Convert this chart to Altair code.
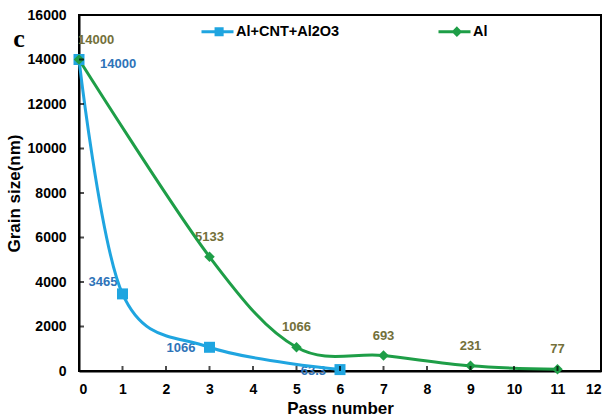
import altair as alt
import pandas as pd

# ---------------- data ----------------
composite_pass = [0, 1, 3, 6]
composite_size = [14000, 3465, 1066, 63.3]
composite_text = ["14000", "3465", "1066", "63.3"]
al_pass = [0, 3, 5, 7, 9, 11]
al_size = [14000, 5133, 1066, 693, 231, 77]
al_text = ["14000", "5133", "1066", "693", "231", "77"]
series_names = ["Al+CNT+Al2O3", "Al"]
x_ticks = list(range(0, 13))
y_ticks = list(range(0, 16001, 2000))

BLUE = "#1FA5E0"
GREEN = "#1E9E47"
BLUE_TXT = "#2E73B8"
OLIVE_TXT = "#73703A"
FONT = "Liberation Sans"

comp = pd.DataFrame({"pass": composite_pass, "size": composite_size,
                     "label": composite_text, "idx": list(range(len(composite_pass)))})
al = pd.DataFrame({"pass": al_pass, "size": al_size,
                   "label": al_text, "idx": list(range(len(al_pass)))})

xscale = alt.Scale(domain=[0, 12], nice=False, zero=False)
yscale = alt.Scale(domain=[0, 16000], nice=False)
xaxis = alt.Axis(values=x_ticks, format="d", title="Pass number", grid=False,
                 ticks=False, tickSize=0, labelPadding=11, titlePadding=4,
                 domainColor="black", domainWidth=2)
yaxis = alt.Axis(values=y_ticks, format="d", title="Grain size(nm)", grid=False,
                 ticks=False, tickSize=0, labelPadding=13, titlePadding=4,
                 domainColor="black", domainWidth=2)


def X(field):
    return alt.X(field, type="quantitative", scale=xscale, axis=xaxis)


def Y(field):
    return alt.Y(field, type="quantitative", scale=yscale, axis=yaxis)


# inward tick marks
xt = alt.Chart(pd.DataFrame({"t": x_ticks})).mark_tick(
    orient="vertical", size=10, thickness=2, color="black", clip=True
).encode(x=X("t"), y=alt.YDatum(0, type="quantitative", scale=yscale, axis=yaxis))
yt = alt.Chart(pd.DataFrame({"t": y_ticks})).mark_tick(
    orient="horizontal", size=10, thickness=2, color="black", clip=True
).encode(y=Y("t"), x=alt.XDatum(0, type="quantitative", scale=xscale, axis=xaxis))

# lines and markers
blue_line = alt.Chart(comp).mark_line(interpolate="cardinal", color=BLUE, strokeWidth=3).encode(
    x=X("pass"), y=Y("size"))
green_line = alt.Chart(al).mark_line(interpolate="cardinal", color=GREEN, strokeWidth=3).encode(
    x=X("pass"), y=Y("size"))
blue_pts = alt.Chart(comp).mark_square(size=121, color=BLUE, opacity=1).encode(
    x=X("pass"), y=Y("size"))
green_pts = alt.Chart(al).mark_point(shape="diamond", filled=True, size=110, color=GREEN, opacity=1).encode(
    x=X("pass"), y=Y("size"))

# value labels
tstyle = dict(font=FONT, fontSize=13, fontWeight="bold", baseline="middle")
b0 = alt.Chart(comp).transform_filter("datum.idx == 0").mark_text(
    align="left", dx=21, dy=4, color=BLUE_TXT, **tstyle).encode(x=X("pass"), y=Y("size"), text="label:N")
b1 = alt.Chart(comp).transform_filter("datum.idx == 1").mark_text(
    align="right", dx=-5, dy=-12, color=BLUE_TXT, **tstyle).encode(x=X("pass"), y=Y("size"), text="label:N")
b2 = alt.Chart(comp).transform_filter("datum.idx >= 2").mark_text(
    align="right", dx=-14, dy=1, color=BLUE_TXT, **tstyle).encode(x=X("pass"), y=Y("size"), text="label:N")
g0 = alt.Chart(al).transform_filter("datum.idx == 0").mark_text(
    align="left", dx=-1, dy=-20, color=OLIVE_TXT, **tstyle).encode(x=X("pass"), y=Y("size"), text="label:N")
g1 = alt.Chart(al).transform_filter("datum.idx >= 1").mark_text(
    align="center", dy=-20, color=OLIVE_TXT, **tstyle).encode(x=X("pass"), y=Y("size"), text="label:N")

# legend (line + marker symbols, drawn with strokes only so the markers look solid)
SQ = ("M-1,0L1,0"
      "M-0.09,-0.19L0.29,-0.19L0.29,0.19L-0.09,0.19Z"
      "M0.03,-0.07L0.17,-0.07L0.17,0.07L0.03,0.07Z")
DI = ("M-1,0L1,0"
      "M0.15,-0.2L0.35,0L0.15,0.2L-0.05,0Z"
      "M0.15,-0.07L0.22,0L0.15,0.07L0.08,0Z")
leg = alt.Legend(title=None, orient="none", legendX=121, legendY=-1, direction="horizontal",
                 symbolSize=1024, symbolStrokeWidth=3, labelFont=FONT, labelFontSize=14.5,
                 labelFontWeight="bold", labelColor="black", labelOffset=1,
                 columnPadding=92, padding=0)
legend_layer = alt.Chart(pd.DataFrame({"series": series_names})).mark_point(
    opacity=0, filled=False).encode(
    stroke=alt.Stroke("series:N", scale=alt.Scale(domain=series_names, range=[BLUE, GREEN]), legend=leg),
    shape=alt.Shape("series:N", scale=alt.Scale(domain=series_names, range=[SQ, DI]), legend=leg),
)

panel_letter = alt.Chart(pd.DataFrame({"t": ["c"]})).mark_text(
    font="Liberation Serif", fontSize=26, fontWeight="bold", align="center", baseline="middle",
    color="black").encode(text="t:N", x=alt.value(-60), y=alt.value(24))

chart = alt.layer(
    b0, b1, b2, g0, g1,
    blue_line, green_line, blue_pts, green_pts,
    xt, yt, legend_layer, panel_letter
).properties(
    width=522, height=356,
    autosize=alt.AutoSizeParams(type="none"),
    padding={"left": 79, "top": 15, "right": 8, "bottom": 48},
).configure_view(
    stroke="black", strokeWidth=2
).configure_axis(
    labelFont=FONT, labelFontSize=14, labelFontWeight="bold", labelColor="black",
    titleFont=FONT, titleFontSize=17, titleFontWeight="bold", titleColor="black",
)

chart.save("out.html", embed_options={"renderer": "svg", "actions": False})
